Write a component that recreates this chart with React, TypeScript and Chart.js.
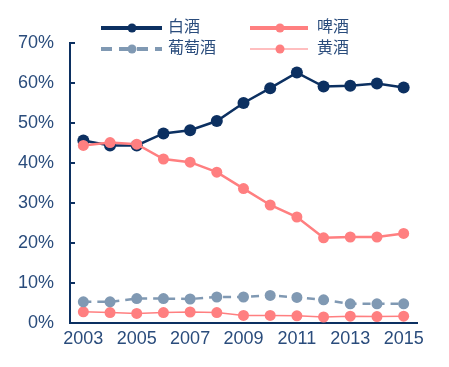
import React, { useEffect, useRef } from "react";
import { Chart, registerables } from "chart.js";

Chart.register(...registerables);

const years = ["2003", "2004", "2005", "2006", "2007", "2008", "2009", "2010", "2011", "2012", "2013", "2014", "2015"];
const seriesNames = ["白酒", "啤酒", "葡萄酒", "黄酒"];
const baijiu = [45.6, 44.4, 44.4, 47.4, 48.2, 50.5, 55.0, 58.7, 62.6, 59.1, 59.3, 59.9, 58.9];
const pijiu = [44.4, 45.1, 44.7, 41.0, 40.2, 37.7, 33.6, 29.5, 26.5, 21.3, 21.5, 21.5, 22.4];
const putaojiu = [5.3, 5.3, 6.1, 6.1, 6.0, 6.5, 6.5, 6.9, 6.4, 5.8, 4.8, 4.8, 4.8];
const huangjiu = [2.8, 2.6, 2.4, 2.6, 2.75, 2.6, 1.9, 1.9, 1.8, 1.5, 1.7, 1.6, 1.7];
const yMin = 0;
const yMax = 70;
const yStep = 10;

const NAVY = "#0c3061";
const SALMON = "#ff7f80";
const GRAYBLUE = "#8099b3";
const TEXT = "#2a4c7c";
const FONT = "Arial, 'Liberation Sans', 'Noto Sans CJK SC', sans-serif";

const innerTicks = {
  id: "innerTicks",
  afterDraw(chart: any) {
    const y = chart.scales.y;
    const ctx = chart.ctx;
    ctx.save();
    ctx.strokeStyle = NAVY;
    ctx.lineWidth = 2;
    y.ticks.forEach((t: any) => {
      const py = Math.round(y.getPixelForValue(t.value));
      ctx.beginPath();
      ctx.moveTo(chart.chartArea.left, py);
      ctx.lineTo(chart.chartArea.left + 5, py);
      ctx.stroke();
    });
    ctx.restore();
  },
};

const customLegend = {
  id: "customLegend",
  afterDraw(chart: any) {
    const ctx = chart.ctx;
    const colStart = [101, 250];
    const colEnd = [162, 308];
    const colMark = [132, 280];
    const colText = [168, 317];
    const rowY = [28, 49];
    ctx.save();
    chart.data.datasets.forEach((ds: any, i: number) => {
      const c = i % 2;
      const r = Math.floor(i / 2);
      const y = rowY[r];
      ctx.strokeStyle = ds.borderColor;
      ctx.lineWidth = ds.legendLineWidth;
      ctx.setLineDash(ds.legendDash || []);
      ctx.beginPath();
      ctx.moveTo(colStart[c], y);
      ctx.lineTo(colEnd[c], y);
      ctx.stroke();
      ctx.setLineDash([]);
      ctx.fillStyle = ds.pointBackgroundColor;
      ctx.beginPath();
      ctx.arc(colMark[c], y, 4.5, 0, Math.PI * 2);
      ctx.fill();
      ctx.fillStyle = TEXT;
      ctx.font = `16px ${FONT}`;
      ctx.textBaseline = "middle";
      ctx.textAlign = "left";
      ctx.fillText(ds.label, colText[c], y);
    });
    ctx.restore();
  },
};

export default function App() {
  const ref = useRef<HTMLCanvasElement | null>(null);
  useEffect(() => {
    if (!ref.current) return;
    const chart = new Chart(ref.current, {
      type: "line",
      data: {
        labels: years,
        datasets: [
          {
            label: seriesNames[0],
            data: baijiu,
            borderColor: NAVY,
            backgroundColor: NAVY,
            pointBackgroundColor: NAVY,
            pointBorderColor: NAVY,
            borderWidth: 2.5,
            pointRadius: 6,
            pointBorderWidth: 0,
            legendLineWidth: 4,
            order: 2,
          } as any,
          {
            label: seriesNames[1],
            data: pijiu,
            borderColor: SALMON,
            backgroundColor: SALMON,
            pointBackgroundColor: SALMON,
            pointBorderColor: SALMON,
            borderWidth: 2.5,
            pointRadius: 5.5,
            pointBorderWidth: 0,
            legendLineWidth: 4,
            order: 1,
          } as any,
          {
            label: seriesNames[2],
            data: putaojiu,
            borderColor: GRAYBLUE,
            backgroundColor: GRAYBLUE,
            pointBackgroundColor: GRAYBLUE,
            pointBorderColor: GRAYBLUE,
            borderWidth: 2.5,
            borderDash: [8, 6],
            legendDash: [11, 7],
            pointRadius: 5.5,
            pointBorderWidth: 0,
            legendLineWidth: 4,
            order: 3,
          } as any,
          {
            label: seriesNames[3],
            data: huangjiu,
            borderColor: SALMON,
            backgroundColor: SALMON,
            pointBackgroundColor: SALMON,
            pointBorderColor: SALMON,
            borderWidth: 1.5,
            pointRadius: 5.5,
            pointBorderWidth: 0,
            legendLineWidth: 1.2,
            order: 4,
          } as any,
        ],
      },
      options: {
        animation: false,
        responsive: true,
        maintainAspectRatio: false,
        layout: { padding: { top: 43, right: 32, bottom: 0, left: 0 } },
        plugins: {
          legend: { display: false },
          tooltip: { enabled: false },
        },
        scales: {
          x: {
            type: "category",
            offset: true,
            grid: { display: true, drawOnChartArea: false, drawTicks: false },
            border: { display: true, color: NAVY, width: 2 },
            ticks: {
              color: TEXT,
              font: { family: FONT, size: 18 },
              padding: 5,
              autoSkip: false,
              maxRotation: 0,
              callback: function (this: any, v: any, i: number) {
                return i % 2 === 0 ? years[i] : "";
              },
            },
            afterFit: (s: any) => {
              s.height = 44;
            },
          },
          y: {
            min: yMin,
            max: yMax,
            grid: { display: true, drawOnChartArea: false, drawTicks: false },
            border: { display: true, color: NAVY, width: 2 },
            ticks: {
              stepSize: yStep,
              color: TEXT,
              font: { family: FONT, size: 18 },
              padding: 16,
              callback: (v: any) => `${v}%`,
            },
            afterFit: (s: any) => {
              s.width = 70;
            },
          },
        },
      },
      plugins: [innerTicks, customLegend],
    });
    return () => chart.destroy();
  }, []);
  return (
    <div style={{ position: "fixed", left: 0, top: 0, width: 449, height: 367, background: "#fff" }}>
      <canvas ref={ref} />
    </div>
  );
}
